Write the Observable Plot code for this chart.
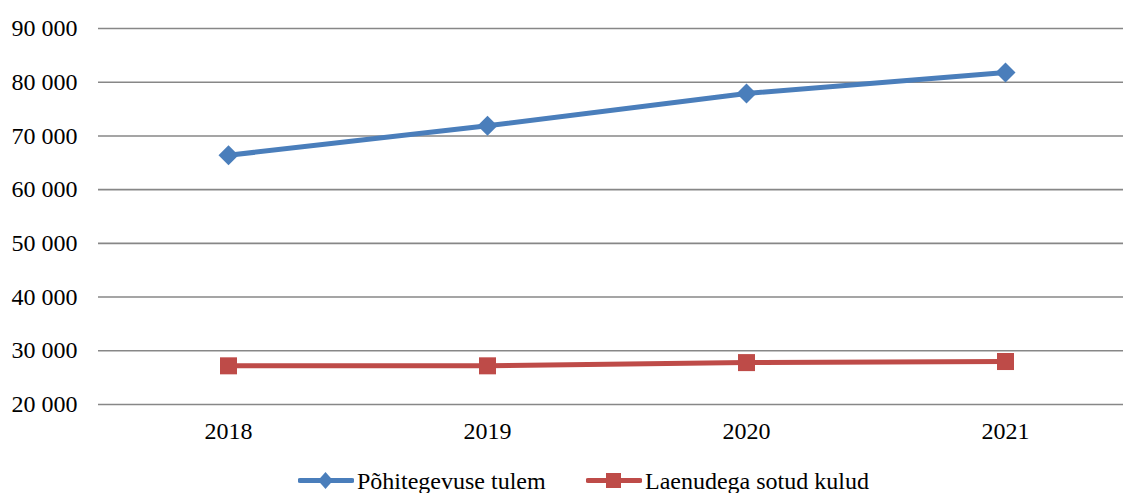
<!DOCTYPE html>
<html>
<head>
<meta charset="utf-8">
<script src="https://cdn.jsdelivr.net/npm/d3@7"></script>
<script src="https://cdn.jsdelivr.net/npm/@observablehq/plot@0.6"></script>
<style>
  html, body { margin: 0; padding: 0; background: #fff; overflow: hidden; }
  #wrap { position: relative; width: 1123px; height: 493px; }
  #legend { position: absolute; left: 0; top: 467px; width: 1123px; height: 26px;
    font-family: 'Liberation Serif', 'DejaVu Serif', serif; font-size: 24px; line-height: 24px; color: #000; }
  .item { position: absolute; top: 0; display: flex; align-items: center; white-space: nowrap; }
  .item svg { margin-right: 3px; }
  #chart svg text { font-family: 'Liberation Serif', 'DejaVu Serif', serif !important; }
</style>
</head>
<body>
<div id="wrap"><div id="chart"></div><div id="legend"></div></div>
<script>
const years = ["2018", "2019", "2020", "2021"];
const seriesNames = ["Põhitegevuse tulem", "Laenudega sotud kulud"];
const pohitegevus = [66400, 71900, 77900, 81800];
const laenud = [27200, 27200, 27800, 28000];
const yTicks = [20000, 30000, 40000, 50000, 60000, 70000, 80000, 90000];
const colors = ["#4A7EBB", "#BE4B48"];

const rows = [];
years.forEach((y, i) => {
  rows.push({year: y, value: pohitegevus[i], series: seriesNames[0]});
  rows.push({year: y, value: laenud[i], series: seriesNames[1]});
});
const s1 = rows.filter(d => d.series === seriesNames[0]);
const s2 = rows.filter(d => d.series === seriesNames[1]);
const fmt = d => d3.format(",")(d).replace(/,/g, " ");

const chart = Plot.plot({
  width: 1123,
  height: 460,
  marginTop: 28,
  marginBottom: 56,
  marginLeft: 98,
  marginRight: 0,
  style: {fontFamily: "'Liberation Serif', 'DejaVu Serif', serif", fontSize: "24px", color: "#000", background: "#fff"},
  x: {type: "point", domain: years, range: [98, 1134], padding: 0.5, label: null, tickSize: 0, tickPadding: 17},
  y: {domain: [20000, 90000], ticks: yTicks, tickFormat: fmt, label: null, tickSize: 0, tickPadding: 21},
  marks: [
    Plot.ruleY(yTicks, {stroke: "#878787", strokeWidth: 1.6}),
    Plot.line(s1, {x: "year", y: "value", stroke: colors[0], strokeWidth: 5}),
    Plot.line(s2, {x: "year", y: "value", stroke: colors[1], strokeWidth: 5}),
    Plot.dot(s1, {x: "year", y: "value", symbol: "diamond2", fill: colors[0], stroke: "none", r: 9}),
    Plot.dot(s2, {x: "year", y: "value", symbol: "square", fill: colors[1], stroke: "none", r: 9.6})
  ]
});
document.getElementById("chart").appendChild(chart);

// legend
const legend = document.getElementById("legend");
const lefts = [298, 586];
seriesNames.forEach((name, i) => {
  const item = document.createElement("div");
  item.className = "item";
  item.style.left = lefts[i] + "px";
  const sym = i === 0
    ? `<path d="M27.5,5 L35,13.5 L27.5,22 L20,13.5Z" fill="${colors[0]}"/>`
    : `<rect x="20" y="6" width="15" height="15" fill="${colors[1]}"/>`;
  item.innerHTML = `<svg width="56" height="27" viewBox="0 0 56 27"><line x1="2" x2="54" y1="13.5" y2="13.5" stroke="${colors[i]}" stroke-width="5" stroke-linecap="round"/>${sym}</svg><span>${name}</span>`;
  legend.appendChild(item);
});
</script>
</body>
</html>
